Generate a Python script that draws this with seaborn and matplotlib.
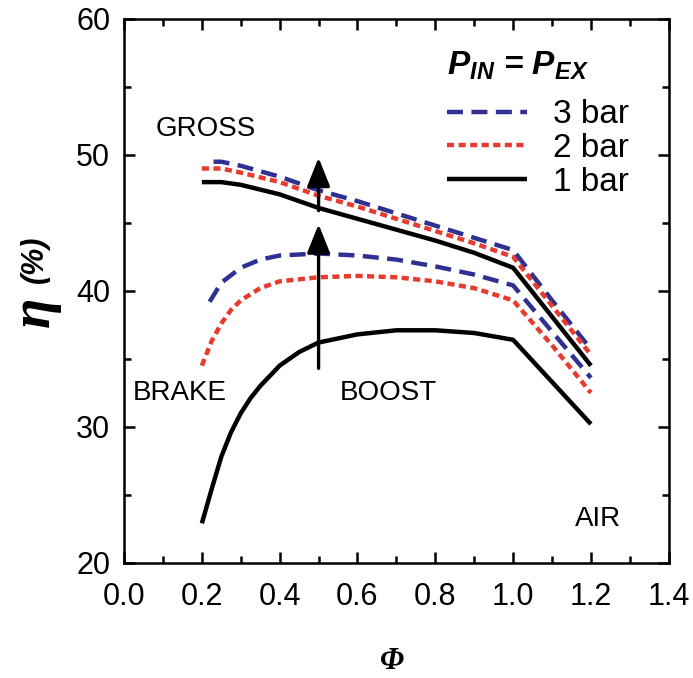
import matplotlib
matplotlib.use("Agg")
import matplotlib.pyplot as plt
import seaborn as sns
import pandas as pd
from matplotlib.ticker import MultipleLocator

sns.set_theme(style="ticks")
plt.rcParams["font.family"] = ["Liberation Sans", "DejaVu Sans"]
plt.rcParams["text.color"] = "black"
plt.rcParams["axes.labelcolor"] = "black"
plt.rcParams["xtick.color"] = "black"
plt.rcParams["ytick.color"] = "black"
plt.rcParams["mathtext.fontset"] = "custom"
plt.rcParams["mathtext.sf"] = "Liberation Sans:bold:italic"
plt.rcParams["mathtext.rm"] = "Liberation Sans:bold:italic"
plt.rcParams["mathtext.it"] = "Liberation Sans:bold:italic"

# Gross efficiency curves
phi_gross_3 = [0.23, 0.25, 0.3, 0.4, 0.5, 0.6, 0.7, 0.8, 0.9, 1.0, 1.1, 1.2]
eta_gross_3 = [49.5, 49.5, 49.2, 48.4, 47.4, 46.6, 45.7, 44.8, 43.9, 43.0, 39.3, 35.7]
phi_gross_2 = [0.2, 0.25, 0.3, 0.4, 0.5, 0.6, 0.7, 0.8, 0.9, 1.0, 1.1, 1.2]
eta_gross_2 = [49.0, 49.0, 48.7, 48.0, 47.0, 46.2, 45.3, 44.4, 43.5, 42.5, 38.9, 35.3]
phi_gross_1 = [0.2, 0.25, 0.3, 0.4, 0.5, 0.6, 0.7, 0.8, 0.9, 1.0, 1.1, 1.2]
eta_gross_1 = [48.0, 48.0, 47.8, 47.1, 46.1, 45.3, 44.5, 43.7, 42.8, 41.7, 38.1, 34.5]

# Brake efficiency curves
phi_brake_3 = [0.22, 0.25, 0.3, 0.35, 0.4, 0.5, 0.6, 0.7, 0.8, 0.9, 1.0, 1.1, 1.2]
eta_brake_3 = [39.2, 40.6, 41.7, 42.3, 42.6, 42.75, 42.6, 42.3, 41.8, 41.2, 40.4, 37.0, 33.6]
phi_brake_2 = [0.2, 0.225, 0.25, 0.275, 0.3, 0.35, 0.4, 0.5, 0.6, 0.7, 0.8, 0.9, 1.0, 1.1, 1.2]
eta_brake_2 = [34.5, 36.3, 37.6, 38.6, 39.3, 40.2, 40.7, 41.0, 41.1, 41.0, 40.7, 40.2, 39.3, 36.0, 32.5]
phi_brake_1 = [0.2, 0.225, 0.25, 0.275, 0.3, 0.325, 0.35, 0.4, 0.45, 0.5, 0.6, 0.7, 0.8, 0.9, 1.0, 1.1, 1.2]
eta_brake_1 = [22.9, 25.4, 27.8, 29.6, 31.0, 32.1, 33.0, 34.5, 35.5, 36.2, 36.8, 37.1, 37.1, 36.9, 36.4, 33.3, 30.2]

pressure_labels = ["3 bar", "2 bar", "1 bar"]
x_ticks = [0.0, 0.2, 0.4, 0.6, 0.8, 1.0, 1.2, 1.4]
y_ticks = [20, 30, 40, 50, 60]

BLUE = "#2e3192"
RED = "#e63b2e"
BLACK = "#000000"
styles = {
    "3 bar": dict(color=BLUE, dashes=(3.6, 1.9)),
    "2 bar": dict(color=RED, dashes=(1.6, 1.0)),
    "1 bar": dict(color=BLACK, dashes=None),
}

fig = plt.figure(figsize=(6.93, 6.78), dpi=100)
ax = fig.add_axes([0.179, 0.170, 0.786, 0.802])

gross = {"3 bar": (phi_gross_3, eta_gross_3),
         "2 bar": (phi_gross_2, eta_gross_2),
         "1 bar": (phi_gross_1, eta_gross_1)}
brake = {"3 bar": (phi_brake_3, eta_brake_3),
         "2 bar": (phi_brake_2, eta_brake_2),
         "1 bar": (phi_brake_1, eta_brake_1)}

handles = []
for lab in pressure_labels:
    st = styles[lab]
    for curves, show in ((gross, True), (brake, False)):
        x, y = curves[lab]
        df = pd.DataFrame({"phi": x, "eta": y})
        kw = dict(color=st["color"], lw=3.2, solid_capstyle="butt",
                  dash_capstyle="butt")
        if st["dashes"] is not None:
            kw["dashes"] = st["dashes"]
        sns.lineplot(data=df, x="phi", y="eta", ax=ax, sort=False,
                     estimator=None, legend=False, **kw)
        if show:
            handles.append(ax.lines[-1])

ax.set_xlim(0.0, 1.4)
ax.set_ylim(20, 60)
ax.set_xticks(x_ticks)
ax.set_xticklabels([f"{v:.1f}" for v in x_ticks])
ax.set_yticks(y_ticks)
ax.xaxis.set_minor_locator(MultipleLocator(0.1))
ax.yaxis.set_minor_locator(MultipleLocator(5))
ax.tick_params(which="both", direction="in", top=True, right=True,
               width=1.8, colors="black")
ax.tick_params(which="major", length=8, labelsize=22)
ax.tick_params(axis="x", which="major", pad=14)
ax.tick_params(axis="y", which="major", pad=10)
ax.tick_params(which="minor", length=5)
for s in ax.spines.values():
    s.set_linewidth(1.8)
    s.set_color("black")
ax.set_xlabel("")
ax.set_ylabel("")

# Axis titles
fig.text(0.566, 0.025, "Φ", family="Liberation Serif", style="italic",
         weight="bold", size=22, ha="center", va="center")
fig.text(0.050, 0.540, "η", family="Liberation Serif", style="italic",
         weight="bold", size=40, ha="center", va="center", rotation=90)
fig.text(0.050, 0.618, "(%)", style="italic", weight="bold", size=22,
         ha="center", va="center", rotation=90)

# Region labels
for txt, x, y in (("GROSS", 0.08, 51.9), ("BRAKE", 0.022, 32.5),
                  ("BOOST", 0.555, 32.5), ("AIR", 1.16, 23.2)):
    ax.text(x, y, txt, size=20, ha="left", va="center", color="black")

# Arrows showing the effect of boost
arrow = dict(arrowstyle="-|>,head_length=0.8,head_width=0.32",
             mutation_scale=22, lw=2.4, color="black",
             shrinkA=0, shrinkB=0)
ax.annotate("", xy=(0.5, 44.9), xytext=(0.5, 34.3), arrowprops=arrow)
ax.annotate("", xy=(0.5, 49.8), xytext=(0.5, 45.9), arrowprops=arrow)

# Legend: heading plus one entry per intake/exhaust pressure
ax.text(0.592, 0.914, r"$\mathsf{P_{IN}}$ = $\mathsf{P_{EX}}$",
        transform=ax.transAxes, size=24, weight="bold", style="italic",
        ha="left", va="center")
leg = ax.legend(handles, pressure_labels, frameon=False, fontsize=24,
                loc="upper left", bbox_to_anchor=(0.593, 0.852),
                handlelength=2.4, handletextpad=0.78, labelspacing=0.08,
                borderaxespad=0.0, borderpad=0.0)

fig.savefig("out.png", dpi=100)
